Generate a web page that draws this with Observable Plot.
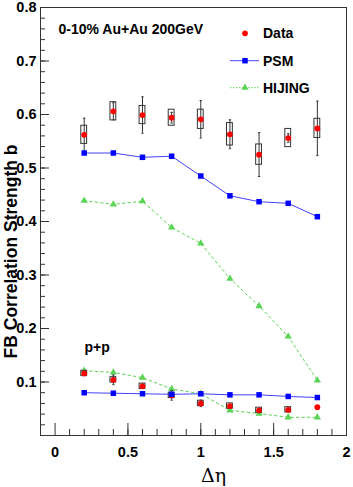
<!DOCTYPE html>
<html><head><meta charset="utf-8">
<script src="https://cdn.jsdelivr.net/npm/d3@7"></script>
<script src="https://cdn.jsdelivr.net/npm/@observablehq/plot@0.6"></script>
<style>body{margin:0;background:#fff} #chart{width:353px;height:487px}</style>
</head><body><div id="chart"></div>
<script>
// ---- data ----
const deltaEta = [0.2, 0.4, 0.6, 0.8, 1.0, 1.2, 1.4, 1.6, 1.8];
// 0-10% Au+Au
const auauData = [0.562, 0.606, 0.599, 0.594, 0.591, 0.563, 0.525, 0.556, 0.574];
const auauStat = [0.031, 0.016, 0.034, 0.010, 0.035, 0.027, 0.041, 0.008, 0.051];
const auauSys  = [0.017, 0.017, 0.017, 0.015, 0.018, 0.021, 0.019, 0.017, 0.018];
const auauPSM  = [0.528, 0.528, 0.520, 0.522, 0.485, 0.448, 0.437, 0.434, 0.409];
const auauHIJING = [0.439, 0.432, 0.438, 0.389, 0.359, 0.293, 0.242, 0.185, 0.103];
// p+p
const ppData = [0.116, 0.104, 0.092, 0.075, 0.060, 0.055, 0.047, 0.048, 0.053];
const ppStat = [0.004, 0.009, 0.004, 0.009, 0.006, 0.003, 0.003, 0.003, 0];
const ppSys  = [0.005, 0.005, 0.005, 0.005, 0.005, 0.005, 0.005, 0.005, 0];
const ppPSM  = [0.080, 0.079, 0.078, 0.077, 0.078, 0.076, 0.076, 0.073, 0.071];
const ppHIJING = [0.121, 0.118, 0.108, 0.087, 0.078, 0.047, 0.041, 0.034, 0.034];
// axes
const xMajor = [0, 0.5, 1, 1.5, 2];
const xLabels = ["0", "0.5", "1", "1.5", "2"];
const yMajor = [0.1, 0.2, 0.3, 0.4, 0.5, 0.6, 0.7, 0.8];
const yLabels = ["0.1", "0.2", "0.3", "0.4", "0.5", "0.6", "0.7", "0.8"];
const xMinor = d3.range(1, 20).map(i => i / 10);
const yMinor = d3.range(1, 40).map(i => i / 50);
const legendLabels = ["Data", "PSM", "HIJING"];
const titleText = "0-10% Au+Au 200GeV";
const ppText = "p+p";
const yTitle = "FB Correlation Strength b";
const xTitle = "\u0394\u03b7";

// ---- styles ----
const RED = "#ff0000", BLUE = "#0000ff", GREEN = "#59d454", BOXC = "#333";
const font = "'Liberation Sans', Arial, sans-serif";
const W = 353, H = 487, mL = 40, mR = 7, mT = 7, mB = 52;
const fw = W - mL - mR, fh = H - mT - mB;
const boxHalf = 0.02, capHalf = 0.008;
const rDot = 2.9, rSq = 3.1, rTri = 2.7;

const mk = (ys, extra = {}) => deltaEta.map((x, i) => ({x, y: ys[i], ...Object.fromEntries(Object.entries(extra).map(([k, v]) => [k, v[i]]))}));
const aaD = mk(auauData, {stat: auauStat, sys: auauSys});
const ppD = mk(ppData, {stat: ppStat, sys: ppSys});
const aaP = mk(auauPSM), aaH = mk(auauHIJING), ppP = mk(ppPSM), ppH = mk(ppHIJING);
const allD = aaD.concat(ppD);

function dataMarks(ds) {
  return [
    Plot.rect(ds.filter(d => d.sys > 0), {x1: d => d.x - boxHalf, x2: d => d.x + boxHalf, y1: d => d.y - d.sys, y2: d => d.y + d.sys, stroke: BOXC, fill: "none", strokeWidth: 1}),
    Plot.ruleX(ds.filter(d => d.stat > 0), {x: "x", y1: d => d.y - d.stat, y2: d => d.y + d.stat, stroke: BOXC, strokeWidth: 1}),
    Plot.link(ds.filter(d => d.stat > 0), {x1: d => d.x - capHalf, x2: d => d.x + capHalf, y1: d => d.y + d.stat, y2: d => d.y + d.stat, stroke: BOXC}),
    Plot.link(ds.filter(d => d.stat > 0), {x1: d => d.x - capHalf, x2: d => d.x + capHalf, y1: d => d.y - d.stat, y2: d => d.y - d.stat, stroke: BOXC}),
    Plot.dot(ds, {x: "x", y: "y", r: rDot, fill: RED, stroke: "none"})
  ];
}
function hijingMarks(ds) {
  return [
    Plot.line(ds, {x: "x", y: "y", stroke: GREEN, strokeWidth: 1, strokeDasharray: "2.5,3"}),
    Plot.dot(ds, {x: "x", y: "y", r: rTri, symbol: "triangle", fill: GREEN, stroke: "none"})
  ];
}
function psmMarks(ds) {
  return [
    Plot.line(ds, {x: "x", y: "y", stroke: BLUE, strokeWidth: 1, strokeOpacity: 0.75}),
    Plot.dot(ds, {x: "x", y: "y", r: rSq, symbol: "square", fill: BLUE, stroke: "none"})
  ];
}

function legend() {
  const g = d3.create("svg:g").attr("font-family", font).attr("font-weight", "bold").attr("font-size", 14).attr("text-anchor", "start");
  const cx = 245, x0 = 230, x1 = 259, tx = 263, ys = [33.3, 60.7, 87.7];
  legendLabels.forEach((lab, i) => {
    const y = ys[i];
    if (i === 1) g.append("line").attr("x1", x0).attr("x2", x1).attr("y1", y).attr("y2", y).attr("stroke", BLUE).attr("stroke-opacity", 0.75);
    if (i === 2) g.append("line").attr("x1", x0).attr("x2", x1).attr("y1", y).attr("y2", y).attr("stroke", GREEN).attr("stroke-dasharray", "1.5,1.5");
    const type = [d3.symbolCircle, d3.symbolSquare, d3.symbolTriangle][i];
    const r = [rDot, rSq, rTri][i];
    g.append("path").attr("d", d3.symbol(type, Math.PI * r * r)()).attr("transform", `translate(${cx},${y})`).attr("fill", [RED, BLUE, GREEN][i]);
    g.append("text").attr("x", tx).attr("y", y).attr("dy", "0.36em").attr("text-anchor", "start").attr("fill", "#000").text(lab);
  });
  return g.node();
}

const plot = Plot.plot({
  width: W, height: H,
  marginLeft: mL, marginRight: mR, marginTop: mT, marginBottom: mB,
  x: {domain: [-0.1, 2.0], axis: null},
  y: {domain: [0, 0.8], axis: null},
  style: {fontFamily: font, background: "#fff", overflow: "visible"},
  marks: [
    Plot.tickY(yMinor, {y: d => d, insetRight: fw - 5, stroke: "#333"}),
    Plot.tickY(yMajor, {y: d => d, insetRight: fw - 9, stroke: "#333"}),
    Plot.tickX(xMinor, {x: d => d, insetTop: fh - 6, stroke: "#333"}),
    Plot.tickX(xMajor, {x: d => d, insetTop: fh - 12, stroke: "#333"}),
    Plot.text(yMajor, {y: d => d, text: (d, i) => yLabels[i], frameAnchor: "left", textAnchor: "end", dx: -4, fontSize: 14.5, fontWeight: "bold", fill: "#000"}),
    Plot.text(xMajor, {x: d => d, text: (d, i) => xLabels[i], frameAnchor: "bottom", lineAnchor: "middle", dy: 17, fontSize: 14.5, fontWeight: "bold", fill: "#000"}),
    Plot.text([yTitle], {text: d => d, frameAnchor: "left", textAnchor: "middle", lineAnchor: "middle", rotate: -90, dx: -29, dy: 30, fontSize: 17.5, fontWeight: "bold", fill: "#000"}),
    Plot.text([xTitle], {text: d => d, frameAnchor: "bottom", lineAnchor: "middle", dx: 20, dy: 40, fontSize: 19, fontFamily: "'DejaVu Serif', serif", fill: "#000"}),
    Plot.text([titleText], {text: d => d, frameAnchor: "top-left", textAnchor: "start", lineAnchor: "middle", dx: 18, dy: 22.5, fontSize: 14, fontWeight: "bold", fill: "#000"}),
    Plot.text([ppText], {text: d => d, frameAnchor: "bottom-left", textAnchor: "start", lineAnchor: "middle", dx: 44, dy: -88, fontSize: 14, fontWeight: "bold", fill: "#000"}),
    ...hijingMarks(aaH), ...hijingMarks(ppH),
    ...dataMarks(allD),
    ...psmMarks(aaP), ...psmMarks(ppP),
    Plot.frame({stroke: "#333", strokeWidth: 1}),
    legend
  ]
});
document.getElementById("chart").appendChild(plot);
</script>
</body></html>
